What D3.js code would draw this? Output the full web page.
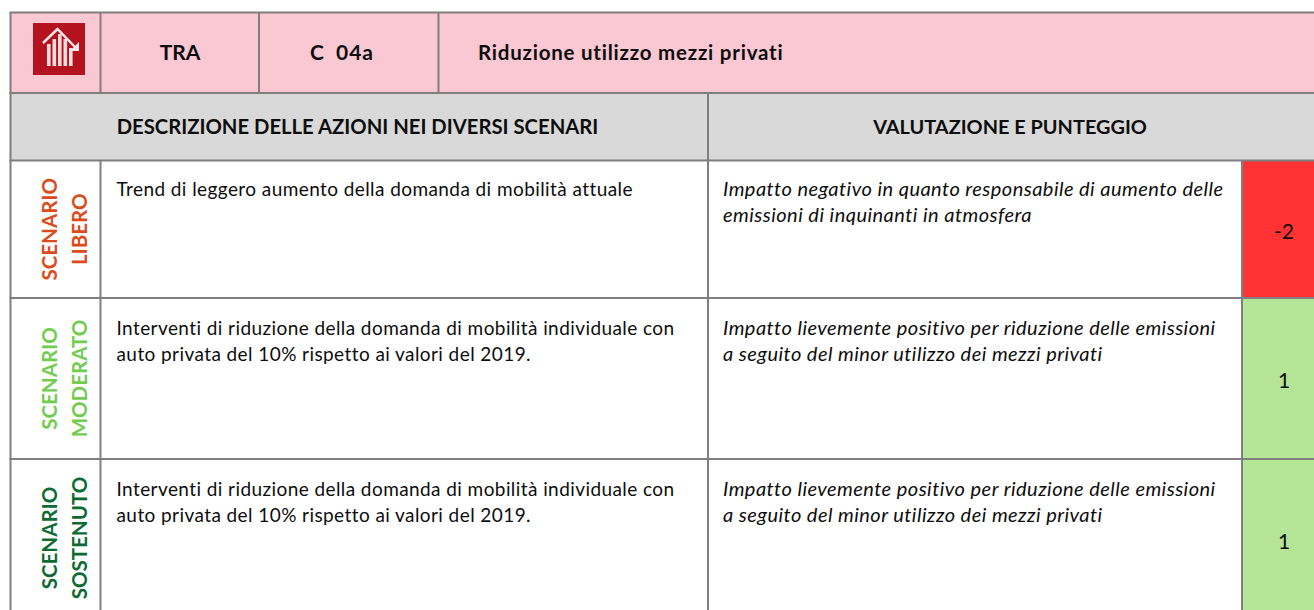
<!DOCTYPE html>
<html>
<head>
<meta charset="utf-8">
<script src="https://cdn.jsdelivr.net/npm/d3@7"></script>
<style>
  html, body { margin: 0; padding: 0; background: #fff; overflow: hidden; }
  text { font-family: Lato, "Open Sans", sans-serif; fill: #0d0d0d; }
</style>
</head>
<body>
<div id="output"></div>
<script>
const headerLabels = ['TRA', 'C 04a', 'Riduzione utilizzo mezzi privati'];
const sectionLabels = ['DESCRIZIONE DELLE AZIONI NEI DIVERSI SCENARI', 'VALUTAZIONE E PUNTEGGIO'];
const scenarios = [['SCENARIO', 'LIBERO'], ['SCENARIO', 'MODERATO'], ['SCENARIO', 'SOSTENUTO']];
const actions = [
  ['Trend di leggero aumento della domanda di mobilità attuale'],
  ['Interventi di riduzione della domanda di mobilità individuale con', 'auto privata del 10% rispetto ai valori del 2019.'],
  ['Interventi di riduzione della domanda di mobilità individuale con', 'auto privata del 10% rispetto ai valori del 2019.']
];
const impacts = [
  ['Impatto negativo in quanto responsabile di aumento delle', 'emissioni di inquinanti in atmosfera'],
  ['Impatto lievemente positivo per riduzione delle emissioni', 'a seguito del minor utilizzo dei mezzi privati'],
  ['Impatto lievemente positivo per riduzione delle emissioni', 'a seguito del minor utilizzo dei mezzi privati']
];
const scores = [-2, 1, 1];

const WIDTH = 1314, HEIGHT = 610;
const GRID = '#7f7f7f';
const X = { left: 10.5, icon: 100.5, tra: 259, code: 438.5, desc: 708, score: 1242, right: 1316 };
const Y = { top: 12.5, head: 93, section: 160.5, rows: [160.5, 298, 459, 617] };

const scoreColor = d3.scaleOrdinal().domain([-2, 1]).range(['#ff3333', '#b5e596']);
const scenarioColor = d3.scaleOrdinal().domain([0, 1, 2]).range(['#dd4b1a', '#72cc50', '#0b6b33']);

const svg = d3.select('#output').append('svg')
  .attr('width', WIDTH)
  .attr('height', HEIGHT)
  .style('display', 'block');

// coloured fills first, grid goes over them
svg.append('rect').attr('x', X.left).attr('y', Y.top)
  .attr('width', X.right - X.left).attr('height', Y.head - Y.top).attr('fill', '#fac8d3');
svg.append('rect').attr('x', X.left).attr('y', Y.head)
  .attr('width', X.right - X.left).attr('height', Y.section - Y.head).attr('fill', '#d9d9d9');

svg.selectAll('.score').data(scores).join('rect')
  .attr('class', 'score')
  .attr('x', X.score)
  .attr('y', (d, i) => Y.rows[i])
  .attr('width', X.right - X.score)
  .attr('height', (d, i) => Y.rows[i + 1] - Y.rows[i])
  .attr('fill', d => scoreColor(d));

// grid
const hLine = (y, x1, x2) => svg.append('line').attr('x1', x1).attr('x2', x2).attr('y1', y).attr('y2', y)
  .attr('stroke', GRID).attr('stroke-width', 2);
const vLine = (x, y1, y2) => svg.append('line').attr('x1', x).attr('x2', x).attr('y1', y1).attr('y2', y2)
  .attr('stroke', GRID).attr('stroke-width', 2);

[Y.top, Y.head, ...Y.rows.slice(0, 3)].forEach(y => hLine(y, X.left - 1, X.right));
vLine(X.left, Y.top, HEIGHT);
[X.icon, X.tra, X.code].forEach(x => vLine(x, Y.top, Y.head));
vLine(X.icon, Y.section, HEIGHT);
vLine(X.desc, Y.head, HEIGHT);
vLine(X.score, Y.section, HEIGHT);

// icon
const icon = svg.append('g').attr('transform', 'translate(33,23)');
icon.append('rect').attr('width', 52).attr('height', 52).attr('fill', '#b5121f');
[[14, 21], [19.5, 16], [25, 11], [30.5, 16], [36, 25]].forEach(([bx, by]) => {
  icon.append('rect').attr('x', bx).attr('y', by).attr('width', 3.6).attr('height', 43 - by).attr('fill', '#f7dcdc');
});
icon.append('path')
  .attr('d', 'M10 20 L24.5 6 L42 24')
  .attr('fill', 'none').attr('stroke', '#fbe6e8').attr('stroke-width', 2.5);
icon.append('path').attr('d', 'M37 28 L46 19 L46 28 Z').attr('fill', '#fbe6e8');

// header text
svg.append('text').attr('x', 180).attr('y', 60).attr('text-anchor', 'middle')
  .attr('font-size', 21).attr('font-weight', 700).text(headerLabels[0]);
svg.append('text').attr('x', 310).attr('y', 60)
  .attr('font-size', 21).attr('font-weight', 700)
  .style('word-spacing', '5px').style('letter-spacing', '1px').text(headerLabels[1]);
svg.append('text').attr('x', 478).attr('y', 60)
  .attr('font-size', 20.5).attr('font-weight', 700).style('letter-spacing', '0.77px').text(headerLabels[2]);

const sectionX = [357.5, 1010];
svg.selectAll('.section').data(sectionLabels).join('text')
  .attr('class', 'section')
  .attr('x', (d, i) => sectionX[i])
  .attr('y', 134)
  .attr('text-anchor', 'middle')
  .attr('font-size', (d, i) => i === 0 ? 20.25 : 19.9)
  .attr('font-weight', 700)
  .text(d => d);

// rows
const textTop = [196, 335, 496];
const lineGap = 26;

scenarios.forEach((lines, i) => {
  const cy = (Y.rows[i] + Y.rows[i + 1]) / 2;
  lines.forEach((t, j) => {
    svg.append('text')
      .attr('transform', `translate(${56.5 + j * 30},${cy}) rotate(-90)`)
      .attr('text-anchor', 'middle')
      .attr('font-size', 20.5)
      .attr('font-weight', 700)
      .style('fill', scenarioColor(i))
      .text(t);
  });
});

actions.forEach((lines, i) => {
  lines.forEach((t, j) => {
    svg.append('text').attr('x', 116.5).attr('y', textTop[i] + j * lineGap)
      .attr('font-size', 19).style('letter-spacing', '0.42px').text(t);
  });
});

impacts.forEach((lines, i) => {
  lines.forEach((t, j) => {
    svg.append('text').attr('x', 723).attr('y', textTop[i] + j * lineGap)
      .attr('font-size', 20).attr('font-style', 'italic').style('letter-spacing', '0.46px').text(t);
  });
});

svg.selectAll('.scoreLabel').data(scores).join('text')
  .attr('class', 'scoreLabel')
  .attr('x', 1284)
  .attr('y', (d, i) => [239, 388, 549][i])
  .attr('text-anchor', 'middle')
  .attr('font-size', 21)
  .text(d => d);
</script>
</body>
</html>
